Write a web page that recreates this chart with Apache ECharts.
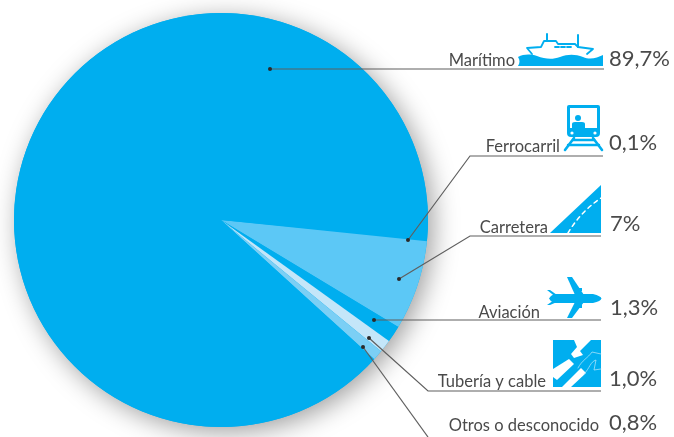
<!DOCTYPE html>
<html>
<head>
<meta charset="utf-8">
<style>
  html, body { margin: 0; padding: 0; background: #fff; }
  #chart { width: 674px; height: 437px; }
</style>
<script src="https://cdn.jsdelivr.net/npm/echarts@6/dist/echarts.min.js"></script>
</head>
<body>
<div id="chart"></div>
<script>
// Transport modes, clockwise from the thin railway sliver
const modes = ['Ferrocarril', 'Carretera', 'Aviación', 'Tubería y cable', 'Otros o desconocido', 'Marítimo'];
const shares = [0.1, 7, 1.3, 1.0, 0.8, 89.7];
const shareLabels = ['0,1%', '7%', '1,3%', '1,0%', '0,8%', '89,7%'];
const sliceColors = ['#00AEEF', '#5CC8F6', '#00AEEF', '#C4E6F9', '#7BCFF5', '#00AEEF'];

const BLUE = '#00AEEF';
const INK = '#4a4a4a';
const LEADER = '#5f5f5f';
const FONT = 'Lato, "Open Sans", sans-serif';
const NAME_SIZE = 16.5;
const VALUE_SIZE = 22;

// Callout placement per mode: anchor dot, leader path, name and percentage positions
const callouts = {
  'Marítimo': { path: [[270, 69], [604, 69]], nameRight: 515, nameBase: 66, valueX: 609, valueBase: 66 },
  'Ferrocarril': { path: [[408, 240], [470, 156], [603, 156]], nameRight: 560, nameBase: 152, valueX: 609, valueBase: 150 },
  'Carretera': { path: [[399, 279], [470, 236], [601, 236]], nameRight: 548, nameBase: 233, valueX: 610, valueBase: 231 },
  'Aviación': { path: [[374, 320], [601, 320]], nameRight: 540, nameBase: 318, valueX: 610, valueBase: 315 },
  'Tubería y cable': { path: [[369, 338], [428, 391], [601, 391]], nameRight: 546, nameBase: 387, valueX: 609, valueBase: 386 },
  'Otros o desconocido': { path: [[363, 347], [428, 437]], nameRight: 599, nameBase: 431, valueX: 609, valueBase: 430 }
};

// Free-form icon outlines are registered once as named shapes
let shapeCount = 0;
function shapeFor(pathData) {
  const name = 'iconPart' + (shapeCount++);
  echarts.graphic.registerShape(name, echarts.graphic.extendPath(pathData));
  return name;
}
function filled(pathData, color) {
  return { type: shapeFor(pathData), z: 50, style: { fill: color || BLUE } };
}
function stroked(pathData, width, color, dash) {
  return {
    type: shapeFor(pathData), z: 51,
    style: { fill: null, stroke: color || BLUE, lineWidth: width, lineDash: dash || null, lineCap: 'round', lineJoin: 'round' }
  };
}
function disc(cx, cy, r, color) {
  return { type: 'circle', z: 52, shape: { cx: cx, cy: cy, r: r }, style: { fill: color } };
}

// Pictograms
const ship = [
  filled('M518 57 C524 54 530 54 537 56 C545 59 552 60 560 57 C568 54 575 54 583 57 C590 60 597 58 603 55 L603 66 L518 66 C520 63 520 60 518 57 Z'),
  stroked('M532 54 L527 48 L541 47 L544 41 L556 41 L558 44 L575 44 L578 47 L593 49 L587 54', 1.8),
  stroked('M547 34 L547 41', 2),
  stroked('M578 35 L578 47', 2),
  stroked('M555 47 L559 47 M561 47 L565 47 M567 47 L571 47', 1.8)
];
const train = [
  filled('M569 105 L598 105 Q600 105 600 107 L600 133 Q600 137 596 137 L571 137 Q567 137 567 133 L567 107 Q567 105 569 105 Z'),
  filled('M570 108 L597 108 L597 128 L570 128 Z', '#ffffff'),
  disc(578, 118, 3, BLUE),
  filled('M572 128 L572 124 Q572 122 575 122 L582 122 Q585 122 585 124 L585 128 Z'),
  disc(572, 133, 1.6, '#ffffff'),
  disc(595, 133, 1.6, '#ffffff'),
  stroked('M573 140 L594 140', 2.4),
  stroked('M568 145 L599 145', 2.4),
  stroked('M574 138 L565 150', 2.6),
  stroked('M593 138 L602 150', 2.6)
];
const road = [
  filled('M550 233 L601 185 L601 233 Z'),
  stroked('M568 233 C575 221 586 208 601 198', 1.5, '#ffffff', [4, 4])
];
const plane = [
  filled('M554 294 L593 294 Q601 296 601.5 298.5 Q601 301 593 303 L554 303 Q550 301 549 298.5 Q550 296 554 294 Z'),
  filled('M567 277 L572 277 L584 295 L575 295 Z'),
  filled('M567 318 L572 318 L584 302 L575 302 Z'),
  filled('M547 290 L550 290 L557 295 L557 298 Z'),
  filled('M547 305 L550 305 L557 302 L557 298 Z'),
  filled('M574 288 L582 288 L582 291 L577 291 Z'),
  filled('M574 308 L582 308 L582 305 L577 305 Z')
];
const pipeline = [
  filled('M553 340 L601 340 L601 387 L553 387 Z'),
  filled('M574 340 L591 340 L580 351 L583 355 L574 358 L571 354 L577 347 Z', '#ffffff'),
  filled('M553 369 L569 359 L574 364 L557 380 L553 377 Z', '#ffffff'),
  filled('M562 387 L581 368 L586 373 L571 387 Z', '#ffffff'),
  stroked('M578 368 C582 360 588 358 592 352 L601 354', 0.7, '#bfe8fb'),
  stroked('M584 374 C590 368 590 362 596 360 L594 370 L601 369', 0.7, '#bfe8fb')
];

const annotations = [];
modes.forEach(function (mode, i) {
  const c = callouts[mode];
  annotations.push({
    type: 'polyline', z: 60,
    shape: { points: c.path },
    style: { fill: null, stroke: LEADER, lineWidth: 1.2 }
  });
  annotations.push({ type: 'circle', z: 61, shape: { cx: c.path[0][0], cy: c.path[0][1], r: 2 }, style: { fill: '#2a2a2a' } });
  annotations.push({
    type: 'text', z: 62, x: c.nameRight, y: c.nameBase - NAME_SIZE * 0.33,
    style: { text: mode, font: NAME_SIZE + 'px ' + FONT, fill: INK, align: 'right', verticalAlign: 'middle' }
  });
  annotations.push({
    type: 'text', z: 62, x: c.valueX, y: c.valueBase - VALUE_SIZE * 0.33,
    style: { text: shareLabels[i], font: VALUE_SIZE + 'px ' + FONT, fill: INK, align: 'left', verticalAlign: 'middle' }
  });
});

const total = shares.reduce(function (a, b) { return a + b; }, 0);
const chart = echarts.init(document.getElementById('chart'), null, { renderer: 'canvas' });
chart.setOption({
  animation: false,
  backgroundColor: '#ffffff',
  graphic: { elements: annotations.concat(ship, train, road, plane, pipeline) },
  series: [
    {
      // Soft drop shadow beneath the whole disc
      type: 'pie', silent: true, z: 1, center: [221, 220], radius: [0, 207],
      label: { show: false }, labelLine: { show: false },
      data: [{ value: total, itemStyle: { color: BLUE, shadowBlur: 26, shadowColor: 'rgba(0,0,0,0.38)', shadowOffsetX: 5, shadowOffsetY: 5 } }]
    },
    {
      type: 'pie', silent: true, z: 2, center: [221, 220], radius: [0, 207],
      startAngle: -5.5, clockwise: true, sort: null,
      label: { show: false }, labelLine: { show: false },
      data: modes.map(function (m, i) {
        return { name: m, value: shares[i], itemStyle: { color: sliceColors[i] } };
      })
    }
  ]
});
</script>
</body>
</html>
